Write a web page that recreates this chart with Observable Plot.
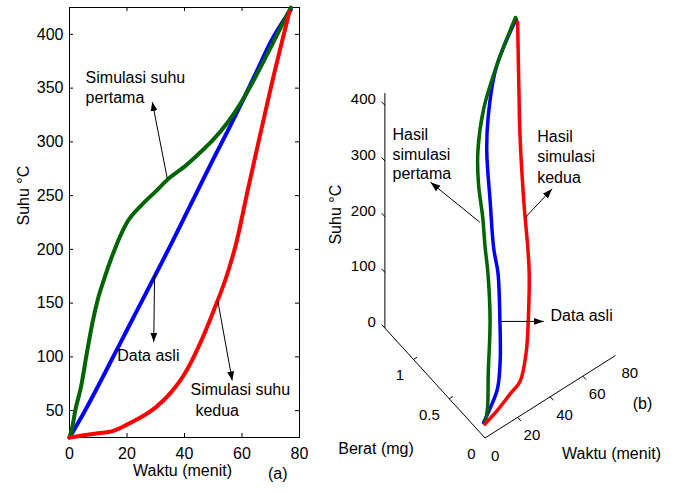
<!DOCTYPE html>
<html>
<head>
<meta charset="utf-8">
<script src="https://cdn.jsdelivr.net/npm/d3@7"></script>
<script src="https://cdn.jsdelivr.net/npm/@observablehq/plot@0.6"></script>
<style>
  body { margin: 0; background: #fff; }
  #chart { position: relative; width: 680px; height: 492px; overflow: hidden; background: #fff; }
  #chart svg { position: absolute; top: 0; }
</style>
</head>
<body>
<div id="chart"></div>
<script>
// ---------------- Panel (a): Suhu vs Waktu ----------------
const waktuAsliA     = [0, 5, 10, 15, 20, 25, 30, 35, 40, 45, 50, 55, 60, 65, 70, 77];
const suhuAsliA      = [25, 48, 73, 99, 125, 151, 177, 203, 230, 257, 284, 310, 337, 365, 393, 423];
const waktuPertamaA  = [0, 1, 2, 4, 6, 8, 10, 12, 15, 20, 25, 30, 35, 40, 45, 50, 55, 60, 65, 70, 77];
const suhuPertamaA   = [25, 35, 50, 72, 103, 132, 155, 172, 195, 225, 241, 254, 267, 277, 289, 302, 318, 338, 362, 388, 425];
const waktuKeduaA    = [0, 5, 10, 15, 20, 25, 30, 35, 40, 45, 50, 55, 58, 62, 66, 70, 76.5];
const suhuKeduaA     = [25, 27, 29, 31, 37, 44, 53, 66, 84, 110, 142, 178, 206, 255, 303, 350, 421];
const xTicksA = [0, 20, 40, 60, 80];
const yTicksA = [50, 100, 150, 200, 250, 300, 350, 400];
const xDomainA = [0, 80];
const yDomainA = [25, 425];

const labelsA = [
  {text: "Simulasi suhu", waktu: 5.6, suhu: 360},
  {text: "pertama", waktu: 5.6, suhu: 341},
  {text: "Data asli", waktu: 16.6, suhu: 101},
  {text: "Simulasi suhu", waktu: 42.1, suhu: 69},
  {text: "kedua", waktu: 43.8, suhu: 50}
];
const arrowsA = [
  {waktu1: 34, suhu1: 266, waktu2: 28.8, suhu2: 337},
  {waktu1: 29.6, suhu1: 176, waktu2: 29.3, suhu2: 114},
  {waktu1: 51.6, suhu1: 152, waktu2: 56.6, suhu2: 78}
];

// ---------------- Panel (b): 3-D Waktu / Berat / Suhu ----------------
const waktuAsliB    = [0, 4, 9, 14.6, 21, 29, 32.5, 40, 48, 54, 64, 73, 77];
const beratAsliB    = [0.02, 0.02, 0.03, 0.12, 0.27, 0.48, 0.62, 0.84, 1.07, 1.19, 1.31, 1.32, 1.32];
const suhuAsliB     = [25, 43, 68, 97, 130, 175, 193, 232, 274, 305, 359, 406, 423];
const waktuPertamaB = [0, 2, 5.5, 11, 18, 22, 28, 35, 43, 54, 65.5, 77];
const beratPertamaB = [0, 0.01, 0.08, 0.18, 0.37, 0.50, 0.67, 0.89, 1.08, 1.25, 1.32, 1.33];
const suhuPertamaB  = [25, 50, 95, 165, 211, 231, 249, 267, 284, 315, 365, 425];
const waktuKeduaB   = [0, 9, 19, 25, 34, 40.5, 49, 52.5, 58, 64, 69, 77];
const beratKeduaB   = [0, 0.03, 0.07, 0.08, 0.20, 0.32, 0.50, 0.60, 0.78, 0.97, 1.10, 1.30];
const suhuKeduaB    = [25, 29, 36, 44, 62, 87, 136, 161, 207, 287, 344, 421];
const waktuTicksB = [0, 20, 40, 60, 80];
const beratTicksB = [0, 0.5, 1];
const suhuTicksB  = [0, 100, 200, 300, 400];
const waktuMaxB = 80, beratMaxB = 1.4, suhuMaxB = 422;

const labelsB = [
  {text: "Hasil", waktu: 0.3, berat: 1.3, suhu: 360},
  {text: "simulasi", waktu: 0.3, berat: 1.3, suhu: 325},
  {text: "pertama", waktu: 0.3, berat: 1.3, suhu: 290},
  {text: "Hasil", waktu: 32, berat: 0, suhu: 481},
  {text: "simulasi", waktu: 32, berat: 0, suhu: 445},
  {text: "kedua", waktu: 32, berat: 0, suhu: 408},
  {text: "Data asli", waktu: 53.3, berat: 0.3, suhu: 78}
];
const arrowsB = [
  {from: [25.3, 0.65, 249], to: [10.4, 1.0, 299]},
  {from: [51.1, 0.6, 217], to: [67.5, 0.6, 238]},
  {from: [21.6, 0.3, 127], to: [49.2, 0.3, 76]}
];

// ---------------- styling ----------------
const FONT = '"Liberation Sans", Arial, Helvetica, sans-serif';
const COLORS = {asli: "#0000ff", pertama: "#006400", kedua: "#ff0000"};

function fillArrowheads(svg, len, half) {
  svg.querySelectorAll("marker").forEach(m => {
    m.setAttribute("viewBox", `${-len} ${-len / 2} ${len} ${len}`);
    m.setAttribute("markerWidth", len);
    m.setAttribute("markerHeight", len);
    m.setAttribute("markerUnits", "userSpaceOnUse");
    m.setAttribute("refX", 0);
    m.setAttribute("refY", 0);
    m.setAttribute("fill", "black");
    m.setAttribute("stroke", "none");
    const p = m.querySelector("path");
    if (p) { p.setAttribute("d", `M${-len},${-half}L0,0L${-len},${half}Z`); p.setAttribute("fill", "black"); p.setAttribute("stroke", "none"); }
  });
}

// ---------------- build panel (a) ----------------
const WA = 310, HA = 492, ML = 69, MR = 11, MT = 7, MB = 55;
const FW = WA - ML - MR, FH = HA - MT - MB, TL = 4;
const seriesA = [
  {key: "asli", waktu: waktuAsliA, suhu: suhuAsliA},
  {key: "pertama", waktu: waktuPertamaA, suhu: suhuPertamaA},
  {key: "kedua", waktu: waktuKeduaA, suhu: suhuKeduaA}
];
const rowsOf = s => s.waktu.map((w, i) => ({waktu: w, suhu: s.suhu[i]}));

const plotA = Plot.plot({
  width: WA, height: HA,
  marginLeft: ML, marginRight: MR, marginTop: MT, marginBottom: MB,
  x: {domain: xDomainA},
  y: {domain: yDomainA},
  style: {fontFamily: FONT, fontSize: "16px", color: "black", background: "white", overflow: "visible"},
  marks: [
    Plot.frame({stroke: "black"}),
    Plot.tickX(xTicksA, {x: d => d, insetTop: FH - TL, stroke: "black"}),
    Plot.tickX(xTicksA, {x: d => d, insetBottom: FH - TL, stroke: "black"}),
    Plot.tickY(yTicksA, {y: d => d, insetRight: FW - TL, stroke: "black"}),
    Plot.tickY(yTicksA, {y: d => d, insetLeft: FW - TL, stroke: "black"}),
    Plot.axisX({ticks: xTicksA, tickSize: 0, tickPadding: 10, label: null, fill: "black"}),
    Plot.axisY({ticks: yTicksA, tickSize: 0, tickPadding: 6, label: null, fill: "black"}),
    ...["asli", "pertama", "kedua"].map(k =>
      Plot.line(rowsOf(seriesA.find(s => s.key === k)), {x: "waktu", y: "suhu", stroke: COLORS[k], strokeWidth: 4, curve: "monotone-x"})
    ),
    Plot.link(arrowsA, {x1: "waktu1", y1: "suhu1", x2: "waktu2", y2: "suhu2", stroke: "black", strokeWidth: 1, markerEnd: "arrow"}),
    Plot.text(labelsA, {x: "waktu", y: "suhu", text: "text", textAnchor: "start", fill: "black", fontSize: 16}),
    Plot.text(["Waktu (menit)"], {frameAnchor: "bottom", dx: -2, dy: 38, text: d => d, fill: "black", fontSize: 16}),
    Plot.text(["Suhu °C"], {frameAnchor: "left", dx: -46, dy: 3, rotate: -90, text: d => d, fill: "black", fontSize: 16}),
    Plot.text(["(a)"], {frameAnchor: "bottom-right", dx: -12, dy: 41, text: d => d, fill: "black", fontSize: 16})
  ]
});
plotA.style.left = "0px";
fillArrowheads(plotA, 9, 3.5);

// ---------------- build panel (b) ----------------
const WB = 370, HB = 492;
const PRJ = {ox: 174.5, oy: 437.5, tx: 1.631, ty: -1.031, wx: -71.5, wy: -78.5, zy: -0.557};
const px = (t, w, T) => PRJ.ox + PRJ.tx * t + PRJ.wx * w;
const py = (t, w, T) => PRJ.oy + PRJ.ty * t + PRJ.wy * w + PRJ.zy * T;
const PX = a => px(a[0], a[1], a[2]);
const PY = a => py(a[0], a[1], a[2]);

const seriesB = [
  {key: "asli", waktu: waktuAsliB, berat: beratAsliB, suhu: suhuAsliB},
  {key: "pertama", waktu: waktuPertamaB, berat: beratPertamaB, suhu: suhuPertamaB},
  {key: "kedua", waktu: waktuKeduaB, berat: beratKeduaB, suhu: suhuKeduaB}
];
const rowsB = s => s.waktu.map((w, i) => [w, s.berat[i], s.suhu[i]]);

const axesB = [
  {a: [0, 0, 0], b: [waktuMaxB, 0, 0]},
  {a: [0, 0, 0], b: [0, beratMaxB, 0]},
  {a: [0, beratMaxB, 0], b: [0, beratMaxB, suhuMaxB]}
];
const tickSegsB = [
  ...suhuTicksB.map(v => ({a: [0, beratMaxB, v], b: [0, beratMaxB + 0.045, v]})),
  ...beratTicksB.filter(v => v > 0).map(v => ({a: [0, v, 0], b: [2.3, v, 0]})),
  ...waktuTicksB.filter(v => v > 0 && v < waktuMaxB).map(v => ({a: [v, 0, 0], b: [v, -0.045, 0]}))
];

const plotB = Plot.plot({
  width: WB, height: HB, margin: 0,
  x: {type: "identity", axis: null},
  y: {type: "identity", axis: null},
  style: {fontFamily: FONT, fontSize: "16px", color: "black", background: "white", overflow: "visible"},
  marks: [
    Plot.link(axesB, {x1: d => PX(d.a), y1: d => PY(d.a), x2: d => PX(d.b), y2: d => PY(d.b), stroke: "black", strokeWidth: 1}),
    Plot.link(tickSegsB, {x1: d => PX(d.a), y1: d => PY(d.a), x2: d => PX(d.b), y2: d => PY(d.b), stroke: "black", strokeWidth: 1}),
    Plot.text(suhuTicksB, {x: v => px(0, beratMaxB, v), y: v => py(0, beratMaxB, v), text: v => String(v), textAnchor: "end", dx: -9, dy: -6, fontSize: 15, fill: "black"}),
    Plot.text(beratTicksB, {x: v => px(0, v, 0), y: v => py(0, v, 0), text: v => String(v), textAnchor: "end", dx: -9.5, dy: 16, fontSize: 15, fill: "black"}),
    Plot.text(waktuTicksB, {x: v => px(v, 0, 0), y: v => py(v, 0, 0), text: v => String(v), textAnchor: "start", dx: 6, dy: 18, fontSize: 15, fill: "black"}),
    ...["asli", "pertama", "kedua"].map(k =>
      Plot.line(rowsB(seriesB.find(s => s.key === k)), {x: PX, y: PY, stroke: COLORS[k], strokeWidth: 3.5, curve: "catmull-rom"})
    ),
    Plot.link(arrowsB, {x1: d => PX(d.from), y1: d => PY(d.from), x2: d => PX(d.to), y2: d => PY(d.to), stroke: "black", strokeWidth: 1, markerEnd: "arrow"}),
    Plot.text(labelsB, {x: d => px(d.waktu, d.berat, d.suhu), y: d => py(d.waktu, d.berat, d.suhu), text: "text", textAnchor: "start", fontSize: 16, fill: "black"}),
    Plot.text(["Suhu °C"], {x: () => px(0, beratMaxB, 200), y: () => py(0, beratMaxB, 200), text: d => d, rotate: -90, dx: -49.5, dy: -2, fontSize: 16, fill: "black"}),
    Plot.text(["Berat (mg)"], {x: () => px(0, 0, 0), y: () => py(0, 0, 0), text: d => d, dx: -109, dy: 11, fontSize: 16, fill: "black"}),
    Plot.text(["Waktu (menit)"], {x: () => px(waktuMaxB, 0, 0), y: () => py(waktuMaxB, 0, 0), text: d => d, dx: -4, dy: 98, fontSize: 16, fill: "black"}),
    Plot.text(["(b)"], {x: () => px(waktuMaxB, 0, 0), y: () => py(waktuMaxB, 0, 0), text: d => d, dx: 27, dy: 48, fontSize: 16, fill: "black"})
  ]
});
plotB.style.left = "310px";
fillArrowheads(plotB, 10, 3.5);

const chart = document.getElementById("chart");
chart.appendChild(plotA);
chart.appendChild(plotB);
</script>
</body>
</html>
